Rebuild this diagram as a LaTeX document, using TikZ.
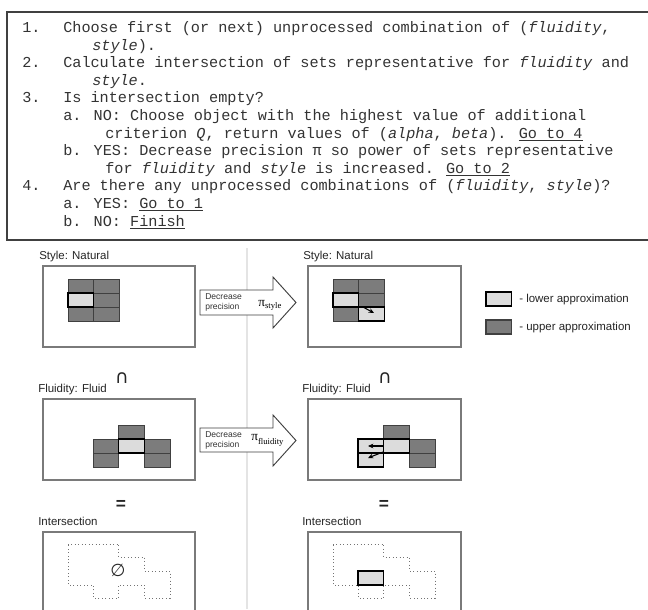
\documentclass[tikz,border=0pt]{standalone}
\usepackage{fontspec}
\setmainfont{Liberation Sans}
\newfontfamily\codefont{Liberation Mono}
\newfontfamily\seriffont{Liberation Serif}
\newfontfamily\symfont{DejaVu Sans}
\usetikzlibrary{arrows.meta}
\definecolor{panelgray}{HTML}{7A7A7A}
\definecolor{darkfill}{HTML}{7C7C7C}
\definecolor{lightfill}{HTML}{DCDCDC}
\definecolor{sepgray}{HTML}{E4E4E4}
\definecolor{codetext}{HTML}{333333}
\tikzset{
  codeline/.style={anchor=base west,inner sep=0pt,text=codetext,font=\codefont\fontsize{11.4}{13}\selectfont},
  lab/.style={anchor=base west,inner sep=0pt,text=black!85,font=\fontsize{8.6}{10}\selectfont},
  small/.style={anchor=base west,inner sep=0pt,text=black!80,font=\fontsize{6.4}{7}\selectfont},
  panel/.style={draw=panelgray,line width=0.8pt,anchor=north west,inner sep=0pt,outer sep=0pt,fill=white},
  darkcell/.style={draw=black!75,fill=darkfill,line width=0.6pt,anchor=north west,inner sep=0pt,outer sep=0pt,minimum width=19.28pt,minimum height=10.5pt},
  lightcell/.style={draw=black,fill=lightfill,line width=1.1pt,anchor=north west,inner sep=0pt,outer sep=0pt,minimum width=19.28pt,minimum height=10.5pt},
  bigarrow/.style={draw=black!75,fill=white,line width=0.7pt,line join=miter},
  dotline/.style={draw=black!55,dotted,line width=0.6pt},
  smallarrow/.style={-{Stealth[length=4pt,width=3.5pt]},line width=0.8pt},
  sym/.style={inner sep=0pt,text=black!85},
}
\begin{document}
\begin{tikzpicture}[x=0.75pt,y=-0.75pt]
\useasboundingbox (0,0) rectangle (648,609);
\fill[white] (0,0) rectangle (648,609);
% algorithm box
\draw[draw=black!75,line width=1.6pt] (7,12) rectangle (656,240);
\node[codeline] (n1) at (22,32.5) {1.};
\node[codeline] (t1) at (63,32.5) {Choose first (or next) unprocessed combination of (\textit{fluidity},};
\node[codeline] (t1b) at (92,50.1) {\textit{style}).};
\node[codeline] (n2) at (22,67.7) {2.};
\node[codeline] (t2) at (63,67.7) {Calculate intersection of sets representative for \textit{fluidity} and};
\node[codeline] (t2b) at (92,85.3) {\textit{style}.};
\node[codeline] (n3) at (22,102.9) {3.};
\node[codeline] (t3) at (63,102.9) {Is intersection empty?};
\node[codeline] (t3a) at (63,120.5) {a. NO: Choose object with the highest value of additional};
\node[codeline] (t3a2) at (105,138.1) {criterion \textit{Q}, return values of (\textit{alpha}, \textit{beta}). \underline{Go to 4}};
\node[codeline] (t3b) at (63,155.7) {b. YES: Decrease precision π so power of sets representative};
\node[codeline] (t3b2) at (105,173.3) {for \textit{fluidity} and \textit{style} is increased. \underline{Go to 2}};
\node[codeline] (n4) at (22,190.9) {4.};
\node[codeline] (t4) at (63,190.9) {Are there any unprocessed combinations of (\textit{fluidity}, \textit{style})?};
\node[codeline] (t4a) at (63,208.5) {a. YES: \underline{Go to 1}};
\node[codeline] (t4b) at (63,226.1) {b. NO: \underline{Finish}};
% separator
\draw[sepgray,line width=0.8pt] (247,248) -- (247,609);
% labels
\node[lab] (lsl) at (39,259) {Style: Natural};
\node[lab] (lsr) at (303,259) {Style: Natural};
\node[lab] (lfl) at (38,392) {Fluidity: Fluid};
\node[lab] (lfr) at (302,392) {Fluidity: Fluid};
\node[lab] (lil) at (38,525) {Intersection};
\node[lab] (lir) at (302,525) {Intersection};
\node[sym,font=\symfont\fontsize{14}{14}\selectfont] (capl) at (122,378) {∩};
\node[sym,font=\symfont\fontsize{14}{14}\selectfont] (capr) at (385,378) {∩};
\node[sym,font=\bfseries\fontsize{13}{13}\selectfont] (eql) at (121,505) {=};
\node[sym,font=\bfseries\fontsize{13}{13}\selectfont] (eqr) at (384,505) {=};
% panels
\node[panel,minimum width=114pt,minimum height=60.75pt] (psl) at (43,266) {};
\node[panel,minimum width=114.75pt,minimum height=60.75pt] (psr) at (308,266) {};
\node[panel,minimum width=114pt,minimum height=60.75pt] (pfl) at (43,399) {};
\node[panel,minimum width=114.75pt,minimum height=60.75pt] (pfr) at (308,399) {};
\node[panel,minimum width=114pt,minimum height=66pt] (pil) at (43,532) {};
\node[panel,minimum width=114.75pt,minimum height=66pt] (pir) at (308,532) {};
% style left grid
\node[darkcell] (sl1) at (68,279) {};
\node[darkcell] (sl2) at (93.7,279) {};
\node[darkcell] (sl4) at (93.7,293) {};
\node[darkcell] (sl5) at (68,307) {};
\node[darkcell] (sl6) at (93.7,307) {};
\node[lightcell] (sl3) at (68,293) {};
% style right grid
\node[darkcell] (sr1) at (333,279) {};
\node[darkcell] (sr2) at (358.7,279) {};
\node[darkcell] (sr4) at (358.7,293) {};
\node[darkcell] (sr5) at (333,307) {};
\node[lightcell] (sr3) at (333,293) {};
\node[lightcell] (sr6) at (358.7,307) {};
\coordinate (sra) at (362,306.5);
\coordinate (srb) at (374,313);
\draw[smallarrow] (sra) -- (srb);
% fluidity left
\node[darkcell] (fl1) at (118.7,425) {};
\node[darkcell] (fl2) at (93,439) {};
\node[darkcell] (fl4) at (144.4,439) {};
\node[darkcell] (fl5) at (93,453) {};
\node[darkcell] (fl6) at (144.4,453) {};
\node[lightcell] (fl3) at (118.7,439) {};
% fluidity right
\node[darkcell] (fr1) at (383.7,425) {};
\node[darkcell] (fr4) at (409.4,439) {};
\node[darkcell] (fr6) at (409.4,453) {};
\node[lightcell] (fr2) at (358,439) {};
\node[lightcell] (fr3) at (383.7,439) {};
\node[lightcell] (fr5) at (358,453) {};
\coordinate (fra) at (383,446);
\coordinate (frb) at (368,446);
\coordinate (frc) at (383,452);
\coordinate (frd) at (368,458);
\draw[smallarrow] (fra) -- (frb);
\draw[smallarrow] (frc) -- (frd);
% big arrows
\draw[bigarrow] (200,290) -- (273,290) -- (273,277) -- (296,302.5) -- (273,328) -- (273,315) -- (200,315) -- cycle;
\node[small] (d1a) at (205,299) {Decrease};
\node[small] (d1b) at (205,309) {precision};
\node[anchor=base west,inner sep=0pt] (pi1) at (258,306) {\seriffont\fontsize{10}{10}\selectfont π\raisebox{-2.2pt}{\fontsize{6.5}{6.5}\selectfont style}};
\draw[bigarrow] (200,428) -- (273,428) -- (273,415) -- (296,440.5) -- (273,466) -- (273,452) -- (200,452) -- cycle;
\node[small] (d2a) at (205,437) {Decrease};
\node[small] (d2b) at (205,447) {precision};
\node[anchor=base west,inner sep=0pt] (pi2) at (251,440) {\seriffont\fontsize{10}{10}\selectfont π\raisebox{-3pt}{\fontsize{6.5}{6.5}\selectfont fluidity}};
% intersections
\draw[dotline] (68,544) -- (118.7,544) -- (118.7,557) -- (144.4,557) -- (144.4,571) -- (170.1,571) -- (170.1,598) -- (144.4,598) -- (144.4,585) -- (118.7,585) -- (118.7,598) -- (93,598) -- (93,585) -- (68,585) -- cycle;
\node[sym,font=\symfont\fontsize{13}{13}\selectfont] (empty) at (118,570) {∅};
\draw[dotline] (333,544) -- (383.7,544) -- (383.7,557) -- (409.4,557) -- (409.4,571) -- (435.1,571) -- (435.1,598) -- (409.4,598) -- (409.4,585) -- (383.7,585) -- (383.7,598) -- (358,598) -- (358,585) -- (333,585) -- cycle;
\node[lightcell] (ir1) at (358,571) {};
% legend
\node[lightcell,line width=0.8pt] (legl) at (486,292) {};
\node[darkcell,line width=0.8pt] (legd) at (486,320) {};
\node[lab] (legtl) at (519,302.5) {- lower approximation};
\node[lab] (legtd) at (519,330) {- upper approximation};
\end{tikzpicture}
\end{document}
